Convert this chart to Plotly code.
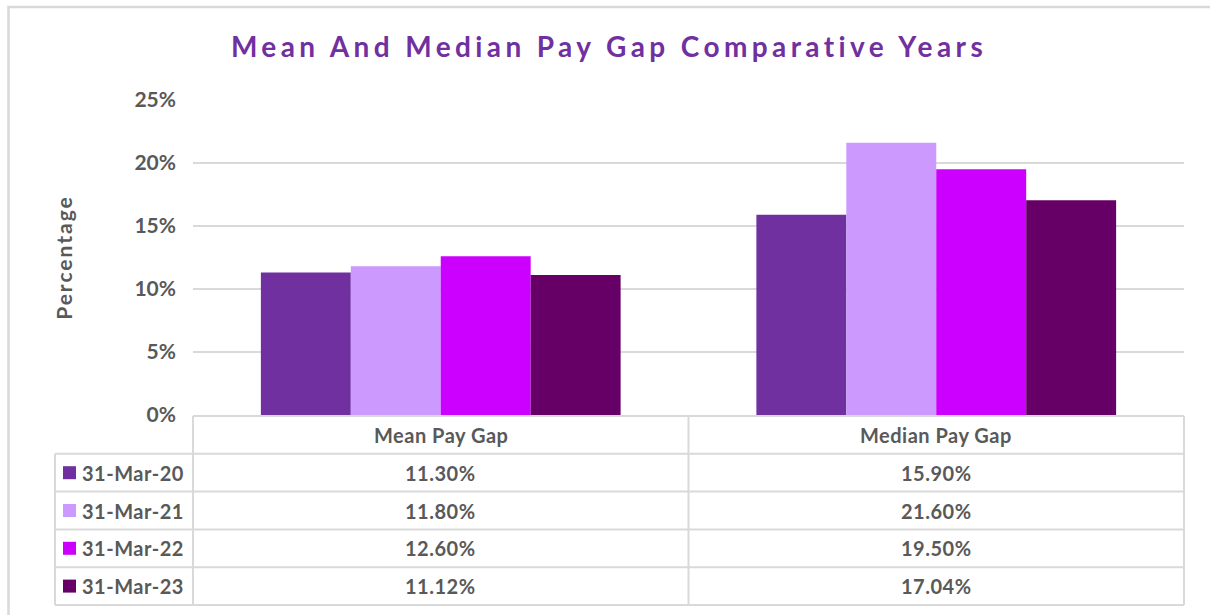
import plotly.graph_objects as go

# ---------------- data ----------------
categories = ["Mean Pay Gap", "Median Pay Gap"]
series_names = ["31-Mar-20", "31-Mar-21", "31-Mar-22", "31-Mar-23"]
values_2020 = [11.30, 15.90]
values_2021 = [11.80, 21.60]
values_2022 = [12.60, 19.50]
values_2023 = [11.12, 17.04]
series_values = [values_2020, values_2021, values_2022, values_2023]
y_ticks = [0, 5, 10, 15, 20, 25]
y_tick_labels = ["0%", "5%", "10%", "15%", "20%", "25%"]

# ---------------- style ----------------
colors = ["#7030A0", "#CC99FF", "#CC00FF", "#660066"]
W, H = 1210, 615
FONT = "Lato, 'Noto Sans', sans-serif"
TXT = "#595959"
GRID = "#D9D9D9"

# pixel layout
plot_l, plot_r, plot_t, plot_b = 193, 1184, 100, 415
cat_px = (plot_r - plot_l) / len(categories)      # pixels per category
tbl_l, tbl_t, tbl_b = 55, 416, 605
n_rows = len(series_names) + 1
row_px = (tbl_b - tbl_t) / n_rows
pad = 4


def px_to_x(px):
    return (px - plot_l) / cat_px - 0.5


def px_to_row(py):
    return (py - tbl_t) / row_px


fig = go.Figure()

for name, vals, col in zip(series_names, series_values, colors):
    fig.add_trace(go.Bar(
        x=categories, y=vals, name=name,
        marker=dict(color=col, line=dict(width=0)),
        showlegend=False, hoverinfo="x+y+name",
    ))

# invisible trace to create table axes
fig.add_trace(go.Scatter(x=[0], y=[0], xaxis="x2", yaxis="y2", mode="markers",
                         marker=dict(opacity=0), showlegend=False, hoverinfo="skip"))

legend_left = px_to_x(tbl_l)
x_left_edge = -0.5
x_right_edge = len(categories) - 0.5

shapes = []
line = dict(color=GRID, width=2)
# horizontal table lines
shapes.append(dict(type="line", xref="x2", yref="y2", x0=x_left_edge, x1=x_right_edge, y0=0, y1=0, line=line))
for k in range(1, n_rows + 1):
    shapes.append(dict(type="line", xref="x2", yref="y2", x0=legend_left, x1=x_right_edge, y0=k, y1=k, line=line))
# vertical table lines
for i in range(len(categories) + 1):
    shapes.append(dict(type="line", xref="x2", yref="y2", x0=i - 0.5, x1=i - 0.5, y0=0, y1=n_rows, line=line))
shapes.append(dict(type="line", xref="x2", yref="y2", x0=legend_left, x1=legend_left, y0=1, y1=n_rows, line=line))

# legend keys
for s, col in enumerate(colors):
    shapes.append(dict(type="rect", xref="x2", yref="y2", xsizemode="pixel", ysizemode="pixel",
                       xanchor=legend_left, yanchor=s + 1.5, x0=8, x1=21, y0=-6.5, y1=6.5,
                       fillcolor=col, line=dict(width=0)))

# outer frame
shapes.append(dict(type="rect", xref="paper", yref="paper", x0=8.5 / W, x1=1.02, y0=-0.02, y1=1 - 7 / H,
                   line=dict(color=GRID, width=2.5), fillcolor="rgba(0,0,0,0)", layer="below"))

annotations = []
tfont = dict(family=FONT, size=20, color=TXT)


def spaced(t):
    return "<b><span style='letter-spacing:0.5px'>" + t + "</span></b>"


for i, cat in enumerate(categories):
    annotations.append(dict(xref="x2", yref="y2", x=i, y=0.5, text=spaced(cat),
                            showarrow=False, font=tfont, xanchor="center", yanchor="middle"))
for s, (name, vals) in enumerate(zip(series_names, series_values)):
    annotations.append(dict(xref="x2", yref="y2", x=legend_left, y=s + 1.5, text=spaced(name),
                            showarrow=False, font=tfont, xanchor="left", yanchor="middle", xshift=25))
    for i, v in enumerate(vals):
        annotations.append(dict(xref="x2", yref="y2", x=i, y=s + 1.5, text=spaced("%.2f%%" % v),
                                showarrow=False, font=tfont, xanchor="center", yanchor="middle"))

fig.update_layout(
    width=W, height=H,
    margin=dict(l=0, r=0, t=0, b=0),
    paper_bgcolor="white", plot_bgcolor="rgba(0,0,0,0)",
    barmode="group", bargap=0.274, bargroupgap=0,
    title=dict(
        text="<b><span style='letter-spacing:4.4px'>Mean And Median Pay Gap Comparative Years</span></b>",
        x=609 / W, xanchor="center", y=1 - 47 / H, yanchor="middle",
        font=dict(family=FONT, size=28, color="#7030A0"),
    ),
    xaxis=dict(domain=[plot_l / W, plot_r / W], range=[-0.5, len(categories) - 0.5],
               showticklabels=False, showgrid=False, zeroline=False, showline=False, ticks="",
               automargin=False),
    yaxis=dict(domain=[1 - plot_b / H, 1 - plot_t / H], range=[0, 25],
               tickvals=y_ticks, ticktext=["<b>%s</b>" % t for t in y_tick_labels],
               tickfont=dict(family=FONT, size=21, color=TXT),
               ticklabelstandoff=16, automargin=False,
               showgrid=True, gridcolor=GRID, gridwidth=2, zeroline=False, showline=False,
               title=dict(text="<b><span style='letter-spacing:2px'>Percentage</span></b>",
                          font=dict(family=FONT, size=21, color=TXT), standoff=56)),
    xaxis2=dict(domain=[(tbl_l - pad) / W, (plot_r + pad) / W], anchor="y2",
                range=[px_to_x(tbl_l - pad), px_to_x(plot_r + pad)],
                visible=False, automargin=False),
    yaxis2=dict(domain=[1 - (tbl_b + pad) / H, 1 - (tbl_t - pad) / H], anchor="x2",
                range=[px_to_row(tbl_b + pad), px_to_row(tbl_t - pad)],
                visible=False, automargin=False),
    shapes=shapes, annotations=annotations,
)

fig.write_html(
    "out.html",
    config={"displayModeBar": False},
    post_script="document.body.style.margin='0';document.body.style.padding='0';"
                "document.body.style.overflow='hidden';",
)
